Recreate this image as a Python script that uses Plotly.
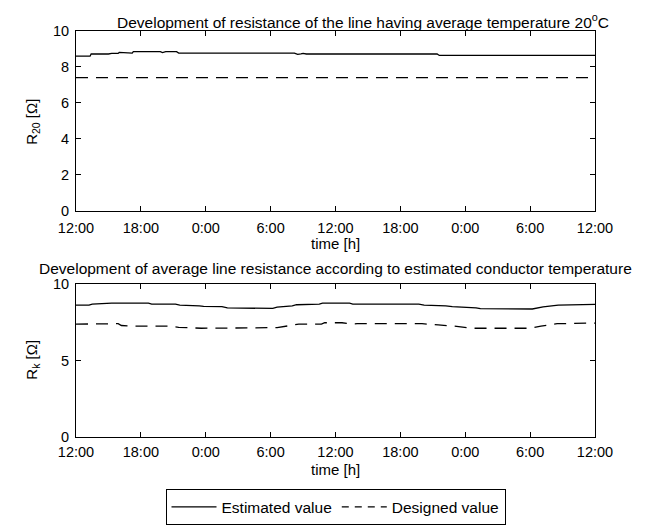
import plotly.graph_objects as go

# ---------------- data ----------------
tick_hours = [0, 6, 12, 18, 24, 30, 36, 42, 48]
tick_labels = ["12:00", "18:00", "0:00", "6:00", "12:00", "18:00", "0:00", "6:00", "12:00"]

# top panel: resistance at 20 degC
top_est_t = [0, 1.3, 1.4, 2.6, 2.8, 3.0, 3.3, 3.9, 4.0, 5.0, 5.1, 5.2, 5.3, 7.8, 8.0, 8.2, 8.3, 9.3, 9.5,
             20.2, 20.5, 20.8, 21.0, 21.3, 21.7, 29.0, 29.1, 29.2, 33.4, 33.6, 48]
top_est_v = [8.60, 8.60, 8.72, 8.72, 8.68, 8.72, 8.75, 8.75, 8.81, 8.81, 8.77, 8.77, 8.85, 8.85, 8.80, 8.85,
             8.85, 8.85, 8.77, 8.77, 8.70, 8.73, 8.76, 8.72, 8.72, 8.72, 8.68, 8.72, 8.72, 8.64, 8.64]
top_des_t = [0, 48]
top_des_v = [7.41, 7.41]

# bottom panel: resistance at estimated conductor temperature
bot_est_t = [0, 1.2, 1.5, 2.4, 2.6, 2.8, 3.3, 6.7, 7.0, 9.2, 9.6, 11.4, 11.8, 13.5, 14.0, 18.2, 18.6, 20.0,
             20.4, 22.5, 22.8, 25.3, 25.6, 31.7, 32.2, 34.2, 34.8, 37.0, 37.4, 42.2, 42.6, 43.2, 44.6, 48]
bot_est_v = [8.63, 8.63, 8.70, 8.72, 8.76, 8.72, 8.76, 8.76, 8.70, 8.70, 8.64, 8.59, 8.55, 8.53, 8.45, 8.42,
             8.50, 8.59, 8.66, 8.70, 8.76, 8.76, 8.70, 8.70, 8.64, 8.59, 8.53, 8.46, 8.40, 8.38, 8.45, 8.52,
             8.64, 8.68]
bot_des_t = [0, 3.6, 3.9, 4.2, 5.4, 8.5, 9.5, 11.6, 18.0, 18.6, 20.0, 20.6, 22.7, 23.0, 24.6, 25.6, 26.0,
             32.0, 33.5, 35.0, 36.5, 42.0, 43.0, 44.5, 48]
bot_des_v = [7.39, 7.39, 7.42, 7.30, 7.26, 7.26, 7.18, 7.12, 7.12, 7.16, 7.32, 7.39, 7.39, 7.48, 7.48, 7.40,
             7.42, 7.42, 7.34, 7.26, 7.12, 7.12, 7.26, 7.42, 7.46]

series_names = ["Estimated value", "Designed value"]
top_title = "Development of resistance of the line having average temperature 20<sup>o</sup>C"
bot_title = "Development of average line resistance according to estimated conductor temperature"

FONT = "Liberation Sans, Arial, Helvetica, sans-serif"
FS_TICK = 14.5
FS_TITLE = 15.5
FS_LAB = 15
DASH = "12px,8px"
LEG_DASH = "7px,6px"
LW = 1.3

fig = go.Figure()
fig.add_trace(go.Scatter(x=top_est_t, y=top_est_v, mode="lines", line=dict(color="black", width=LW),
                         name=series_names[0], xaxis="x", yaxis="y", showlegend=False))
fig.add_trace(go.Scatter(x=top_des_t, y=top_des_v, mode="lines", line=dict(color="black", width=LW, dash=DASH),
                         name=series_names[1], xaxis="x", yaxis="y", showlegend=False))
fig.add_trace(go.Scatter(x=bot_est_t, y=bot_est_v, mode="lines", line=dict(color="black", width=LW),
                         name=series_names[0], xaxis="x2", yaxis="y2", showlegend=False))
fig.add_trace(go.Scatter(x=bot_des_t, y=bot_des_v, mode="lines", line=dict(color="black", width=LW, dash=DASH),
                         name=series_names[1], xaxis="x2", yaxis="y2", showlegend=False))
# legend entries (no data, only the legend samples)
fig.add_trace(go.Scatter(x=[None], y=[None], mode="lines", line=dict(color="black", width=LW),
                         name=series_names[0], xaxis="x", yaxis="y"))
fig.add_trace(go.Scatter(x=[None], y=[None], mode="lines", line=dict(color="black", width=LW, dash=LEG_DASH),
                         name=series_names[1], xaxis="x", yaxis="y"))

W, H = 654, 529
L, R = 68, 67
T, B = 23, 86
pw = W - L - R
ph = H - T - B
Y0 = H - B  # pixel y of the bottom plot's bottom edge


def py(pix):
    """pixel row -> paper y"""
    return (Y0 - pix) / ph


def px(pix):
    """pixel column -> paper x"""
    return (pix - L) / pw


top_dom = [py(209), 1.0]
bot_dom = [0.0, py(285)]

axis_common = dict(showline=True, linecolor="black", linewidth=1, mirror="ticks", ticks="inside",
                   ticklen=5, tickcolor="black", showgrid=False, zeroline=False,
                   tickfont=dict(family=FONT, size=FS_TICK, color="black"))

fig.update_layout(
    width=W, height=H,
    margin=dict(l=L, r=R, t=T, b=B),
    paper_bgcolor="white", plot_bgcolor="white",
    font=dict(family=FONT, size=FS_TICK, color="black"),
    xaxis=dict(domain=[0, 1], range=[0, 48], tickvals=tick_hours, ticktext=tick_labels, anchor="y",
               ticklabelstandoff=4, **axis_common),
    yaxis=dict(domain=top_dom, range=[0, 10], tickvals=[0, 2, 4, 6, 8, 10], anchor="x",
               ticklabelstandoff=3, **axis_common),
    xaxis2=dict(domain=[0, 1], range=[0, 48], tickvals=tick_hours, ticktext=tick_labels, anchor="y2",
                ticklabelstandoff=2, **axis_common),
    yaxis2=dict(domain=bot_dom, range=[0, 10], tickvals=[0, 5, 10], anchor="x2",
                ticklabelstandoff=3, **axis_common),
    showlegend=True,
    legend=dict(orientation="h", x=0.5, xanchor="center", y=py(497), yanchor="top",
                bordercolor="black", borderwidth=1, bgcolor="white",
                font=dict(family=FONT, size=FS_TITLE, color="black"), itemwidth=45,
                tracegroupgap=0),
    annotations=[
        dict(text=top_title, xref="paper", yref="paper", x=px(603), y=py(0), xanchor="right",
             yanchor="top", showarrow=False, font=dict(family=FONT, size=FS_TITLE)),
        dict(text=bot_title, xref="paper", yref="paper", x=0.5, y=py(269), xanchor="center",
             yanchor="middle", showarrow=False, font=dict(family=FONT, size=FS_TITLE)),
        dict(text="time [h]", xref="paper", yref="paper", x=0.5, y=py(243), xanchor="center",
             yanchor="middle", showarrow=False, font=dict(family=FONT, size=FS_LAB)),
        dict(text="time [h]", xref="paper", yref="paper", x=0.5, y=py(477), xanchor="center",
             yanchor="middle", showarrow=False, font=dict(family=FONT, size=FS_LAB)),
        dict(text="R<sub>20</sub> [Ω]", xref="paper", yref="paper", x=px(25),
             y=py(117), xanchor="center", yanchor="middle", textangle=-90, showarrow=False,
             font=dict(family=FONT, size=FS_LAB)),
        dict(text="R<sub>k</sub> [Ω]", xref="paper", yref="paper", x=px(25),
             y=py(363), xanchor="center", yanchor="middle", textangle=-90, showarrow=False,
             font=dict(family=FONT, size=FS_LAB)),
    ],
)

fig.write_html("out.html")
